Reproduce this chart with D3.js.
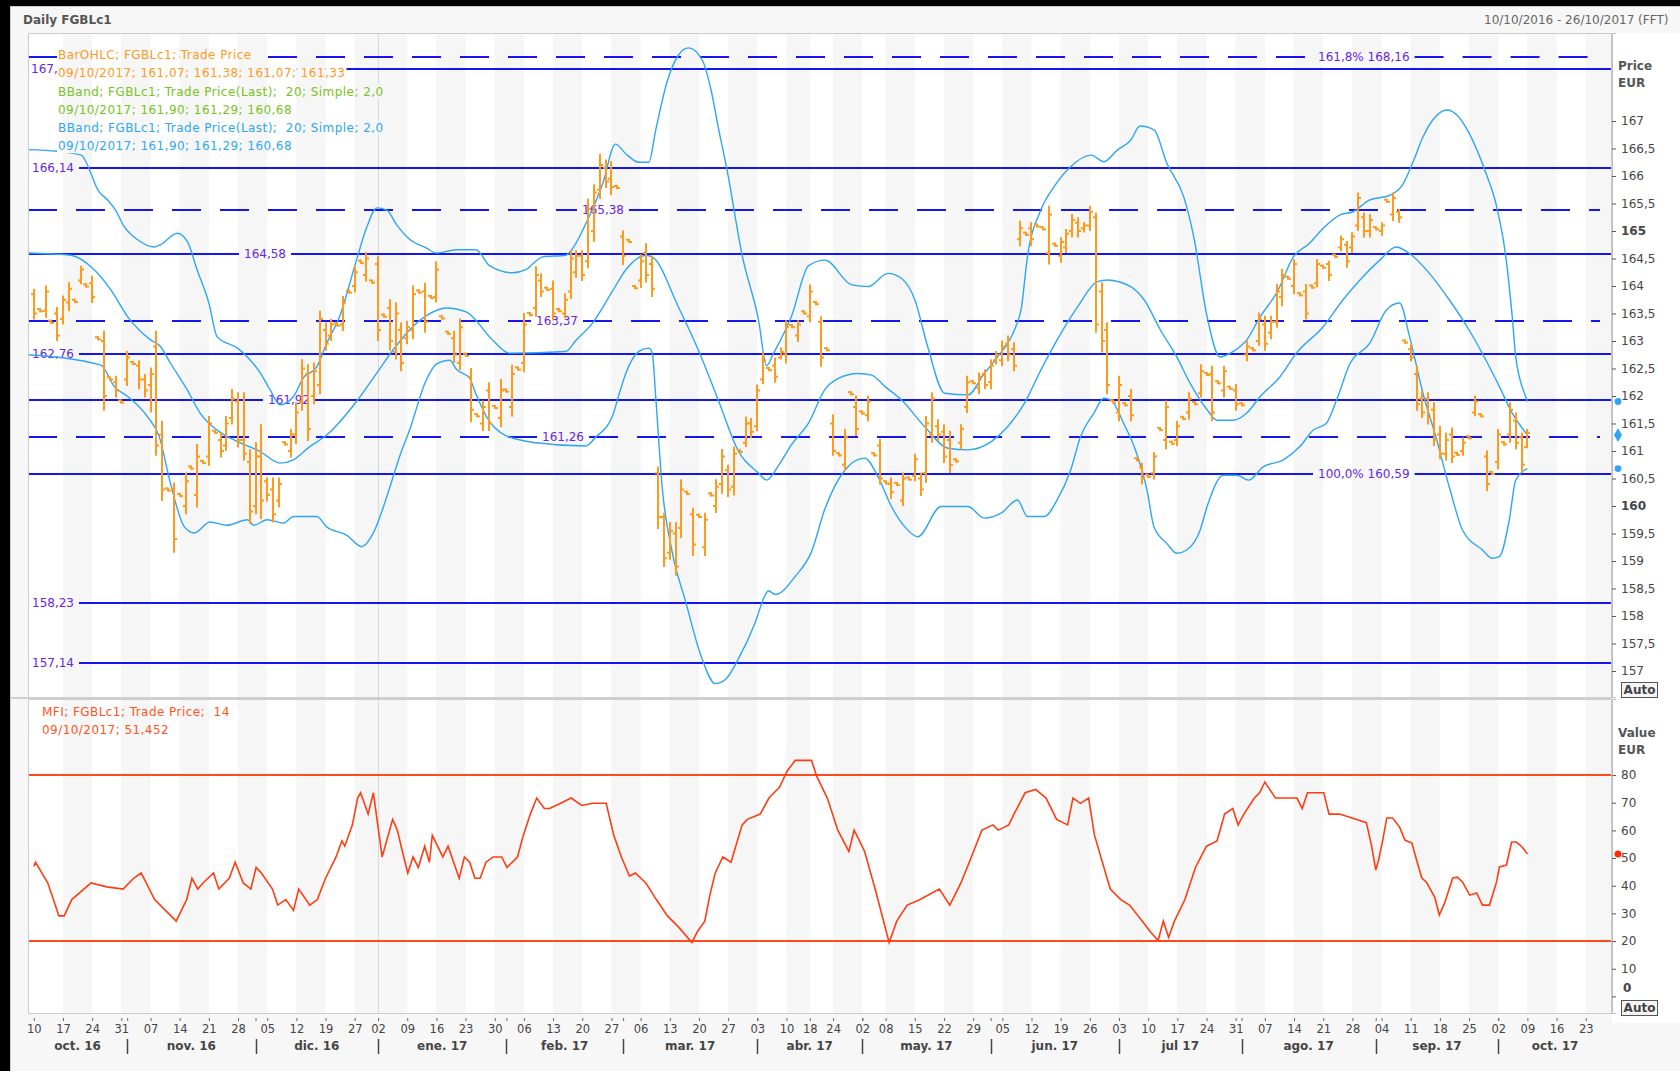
<!DOCTYPE html>
<html>
<head>
<meta charset="utf-8">
<title>Daily FGBLc1</title>
<script src="https://cdn.jsdelivr.net/npm/d3@7/dist/d3.min.js"></script>
<style>
  html, body { margin: 0; padding: 0; background: #000; }
  svg { display: block; font-family: "DejaVu Sans", Verdana, sans-serif; }
</style>
</head>
<body>
<svg id="chart" width="1680" height="1071"></svg>
<script>
// Trading calendar (exchange holidays are skipped on the x axis)
var firstDay = '2016-10-10', lastDay = '2017-10-27';
var holidays = ['2016-12-26', '2017-04-14', '2017-04-17', '2017-05-01'];

// Daily OHLC, one value per trading day from 10/10/2016 to 09/10/2017
var opens = [
  163.85, 163.58, 163.55, 163.37, 163.50, 163.40, 163.70, 163.75, 164.10, 164.03,
  164.05, 163.07, 163.00, 162.34, 162.25, 161.92, 162.30, 162.62, 162.55, 162.30,
  162.20, 162.90, 161.30, 160.32, 160.30, 160.22, 160.00, 160.72, 160.20, 160.82,
  160.90, 161.37, 161.20, 161.10, 161.60, 161.90, 161.20, 160.80, 160.00, 160.90,
  160.45, 160.30, 160.10, 161.16, 161.00, 161.30, 161.90, 162.40, 162.00, 162.20,
  163.20, 163.10, 163.32, 163.30, 163.92, 164.00, 164.46, 164.20, 164.10, 164.40,
  163.48, 163.60, 162.80, 163.20, 163.05, 163.20, 163.92, 163.90, 163.82, 163.80,
  163.45, 163.17, 163.05, 162.60, 162.77, 162.35, 161.67, 161.50, 162.10, 161.82,
  161.60, 162.12, 161.80, 162.52, 162.60, 163.51, 163.60, 164.10, 163.97, 163.95,
  163.58, 163.50, 163.90, 164.25, 164.55, 164.45, 165.00, 165.75, 166.15, 165.95,
  165.82, 164.90, 164.84, 164.00, 164.10, 164.60, 164.40, 160.60, 159.80, 159.15,
  159.50, 159.60, 160.26, 159.85, 159.84, 159.25, 160.23, 160.00, 160.40, 160.65,
  160.35, 161.02, 161.15, 161.50, 161.45, 162.30, 162.51, 162.55, 162.70, 162.75,
  163.29, 163.10, 163.54, 163.45, 163.71, 163.35, 162.87, 161.50, 160.96, 160.75,
  162.07, 161.80, 161.72, 161.65, 160.96, 161.10, 160.45, 160.40, 160.42, 160.10,
  160.52, 160.55, 160.50, 160.60, 161.30, 161.45, 161.35, 161.20, 160.85, 161.15,
  161.80, 162.27, 162.15, 162.40, 162.25, 162.65, 162.65, 162.95, 162.85, 164.85,
  164.97, 165.05, 165.12, 165.07, 164.60, 164.77, 164.55, 164.70, 165.00, 165.15,
  165.05, 165.10, 165.25, 163.90, 163.20, 161.92, 161.70, 161.87, 162.00, 160.87,
  160.70, 160.57, 160.60, 161.42, 161.20, 161.17, 161.20, 161.62, 161.70, 161.89,
  162.05, 162.42, 162.40, 162.27, 162.10, 162.17, 162.10, 161.87, 162.75, 162.87,
  163.00, 163.30, 163.15, 163.35, 163.80, 164.17, 164.00, 163.87, 163.90, 164.01,
  164.05, 164.37, 164.40, 164.57, 164.70, 164.75, 164.70, 165.10, 165.25, 165.00,
  165.07, 165.00, 165.57, 165.30, 165.35, 163.01, 162.85, 162.40, 161.95, 161.95,
  161.75, 161.30, 160.95, 161.30, 160.97, 161.00, 161.27, 161.70, 161.67, 160.90,
  160.62, 160.80, 161.16, 161.30, 161.55, 161.25, 161.07
];
var highs = [
  163.93, 163.58, 163.99, 163.37, 163.60, 163.81, 164.05, 163.75, 164.35, 164.03,
  164.17, 163.07, 163.17, 162.34, 162.35, 161.92, 162.80, 162.62, 162.63, 162.38,
  162.50, 163.17, 161.53, 160.32, 160.41, 160.22, 160.59, 160.72, 161.11, 160.82,
  161.62, 161.37, 161.32, 161.62, 162.11, 162.05, 162.05, 161.02, 161.14, 161.47,
  160.50, 160.50, 160.50, 161.16, 161.38, 161.87, 162.65, 162.56, 162.59, 163.53,
  163.32, 163.38, 163.32, 163.80, 163.92, 164.35, 164.46, 164.60, 164.10, 164.53,
  163.48, 163.74, 163.68, 163.32, 163.35, 163.99, 163.92, 164.04, 163.82, 164.43,
  163.45, 163.17, 163.17, 163.39, 162.77, 162.49, 161.67, 161.90, 162.23, 161.82,
  162.29, 162.12, 162.55, 162.52, 163.49, 163.51, 164.34, 164.21, 163.97, 164.08,
  163.58, 163.85, 164.63, 164.63, 164.63, 165.57, 165.83, 166.38, 166.28, 166.25,
  165.82, 164.99, 164.84, 164.00, 164.56, 164.76, 164.53, 160.70, 159.86, 159.69,
  159.69, 160.47, 160.26, 159.95, 159.84, 159.86, 160.23, 160.47, 161.02, 160.73,
  161.06, 161.02, 161.61, 161.58, 162.19, 162.78, 162.51, 162.68, 162.87, 163.36,
  163.29, 163.36, 163.54, 164.01, 163.71, 163.43, 162.87, 161.65, 160.96, 161.38,
  162.07, 161.99, 161.72, 161.99, 160.96, 161.20, 160.45, 160.50, 160.42, 160.59,
  160.52, 160.93, 160.59, 161.62, 162.05, 161.56, 161.47, 161.35, 160.85, 161.47,
  162.35, 162.27, 162.41, 162.47, 162.65, 162.80, 162.99, 163.08, 162.96, 165.17,
  164.97, 165.14, 165.12, 165.07, 165.44, 164.77, 164.87, 165.02, 165.29, 165.23,
  165.14, 165.44, 165.32, 164.05, 163.32, 161.92, 162.35, 161.87, 162.11, 160.87,
  160.77, 160.57, 160.96, 161.42, 161.90, 161.17, 161.53, 161.62, 162.05, 161.89,
  162.56, 162.42, 162.53, 162.27, 162.53, 162.17, 162.20, 161.87, 162.99, 162.87,
  163.50, 163.44, 163.44, 164.02, 164.29, 164.17, 164.47, 163.87, 164.02, 164.01,
  164.47, 164.37, 164.44, 164.57, 164.90, 164.80, 164.96, 165.68, 165.32, 165.29,
  165.07, 165.14, 165.57, 165.68, 165.38, 163.01, 162.93, 162.53, 162.08, 162.05,
  161.87, 161.44, 161.32, 161.41, 160.97, 161.23, 161.27, 161.99, 161.67, 160.99,
  160.62, 161.38, 161.16, 161.87, 161.68, 161.32, 161.38
];
var lows = [
  163.41, 163.54, 163.44, 163.33, 163.02, 163.32, 163.56, 163.71, 164.05, 163.99,
  163.71, 163.03, 161.75, 162.30, 161.99, 161.88, 162.20, 162.58, 162.14, 161.99,
  161.72, 160.93, 160.11, 160.28, 159.17, 160.18, 159.87, 160.68, 159.99, 160.78,
  160.75, 161.33, 160.90, 161.02, 161.50, 161.08, 160.84, 159.69, 159.87, 159.78,
  160.10, 159.72, 159.99, 161.12, 160.90, 161.14, 161.75, 161.20, 161.87, 162.05,
  162.84, 163.02, 163.28, 163.20, 163.88, 163.90, 164.42, 164.10, 164.06, 163.02,
  163.44, 162.84, 162.68, 162.47, 162.96, 163.05, 163.88, 163.17, 163.78, 163.72,
  163.41, 163.13, 162.62, 162.49, 162.73, 161.54, 161.63, 161.38, 161.38, 161.78,
  161.45, 162.08, 161.64, 162.48, 162.45, 163.47, 163.46, 163.82, 163.93, 163.39,
  163.54, 163.43, 163.78, 164.17, 164.11, 164.34, 164.82, 165.60, 165.80, 165.67,
  165.78, 164.40, 164.80, 163.96, 163.98, 164.08, 163.82, 159.60, 158.91, 159.04,
  158.75, 159.43, 160.22, 159.11, 159.80, 159.11, 160.19, 159.89, 160.24, 160.18,
  160.21, 160.98, 161.09, 161.25, 161.38, 162.23, 162.47, 162.26, 162.68, 162.61,
  163.25, 163.00, 163.50, 163.36, 163.67, 162.55, 162.83, 160.93, 160.92, 160.65,
  162.03, 161.29, 161.68, 161.56, 160.92, 160.41, 160.41, 160.14, 160.38, 160.02,
  160.48, 160.47, 160.20, 160.44, 161.17, 161.20, 160.80, 160.62, 160.81, 161.05,
  161.71, 162.23, 162.05, 162.14, 162.14, 162.59, 162.56, 162.65, 162.47, 164.74,
  164.93, 164.74, 165.08, 165.03, 164.41, 164.73, 164.44, 164.62, 164.90, 164.90,
  164.99, 165.02, 163.17, 162.81, 162.05, 161.88, 161.56, 161.83, 161.56, 160.83,
  160.41, 160.53, 160.50, 161.38, 161.05, 161.13, 161.11, 161.58, 161.59, 161.85,
  161.99, 162.38, 161.56, 162.23, 161.99, 162.13, 161.75, 161.83, 162.65, 162.83,
  162.93, 162.84, 163.05, 163.26, 163.65, 164.13, 163.87, 163.83, 163.41, 163.97,
  163.99, 164.33, 164.11, 164.53, 164.65, 164.35, 164.62, 165.02, 164.90, 164.90,
  165.03, 164.93, 165.53, 165.20, 165.17, 162.97, 162.65, 161.75, 161.62, 161.50,
  161.11, 160.87, 160.84, 160.80, 160.93, 160.93, 161.23, 161.65, 161.63, 160.29,
  160.58, 160.68, 161.12, 161.17, 161.05, 160.62, 161.07
];
var closes = [
  163.50, 163.54, 163.90, 163.33, 163.10, 163.75, 163.95, 163.71, 164.30, 163.99,
  163.80, 163.03, 162.00, 162.30, 162.10, 161.88, 162.70, 162.58, 162.30, 162.10,
  162.40, 161.10, 160.30, 160.28, 159.40, 160.18, 160.45, 160.68, 160.90, 160.78,
  161.50, 161.33, 161.00, 161.50, 161.95, 161.20, 160.95, 159.90, 160.90, 160.10,
  160.20, 159.85, 160.40, 161.12, 161.30, 161.70, 162.50, 161.40, 162.45, 163.40,
  162.95, 163.30, 163.28, 163.70, 163.88, 164.25, 164.42, 164.50, 164.06, 163.20,
  163.44, 163.00, 163.50, 162.60, 163.25, 163.85, 163.88, 163.35, 163.78, 164.30,
  163.41, 163.13, 162.75, 163.25, 162.73, 161.75, 161.63, 161.80, 161.50, 161.78,
  162.10, 162.08, 162.40, 162.48, 163.30, 163.47, 164.20, 163.90, 163.93, 163.50,
  163.54, 163.75, 164.50, 164.55, 164.20, 165.40, 165.70, 166.20, 165.90, 165.80,
  165.78, 164.55, 164.80, 163.96, 164.45, 164.20, 163.95, 159.80, 159.05, 159.55,
  158.90, 160.30, 160.22, 159.30, 159.80, 159.75, 160.19, 160.35, 160.90, 160.30,
  160.95, 160.98, 161.50, 161.35, 162.10, 162.65, 162.47, 162.35, 162.80, 163.25,
  163.25, 163.30, 163.50, 163.90, 163.67, 162.70, 162.83, 161.00, 160.92, 161.25,
  162.03, 161.40, 161.68, 161.90, 160.92, 160.50, 160.41, 160.25, 160.38, 160.50,
  160.48, 160.85, 160.30, 161.50, 161.95, 161.30, 160.90, 160.75, 160.81, 161.40,
  162.25, 162.23, 162.35, 162.20, 162.55, 162.75, 162.90, 162.75, 162.55, 165.05,
  164.93, 164.85, 165.08, 165.03, 165.30, 164.73, 164.80, 164.95, 165.20, 165.00,
  165.10, 165.35, 163.30, 163.00, 162.20, 161.88, 162.20, 161.83, 161.65, 160.83,
  160.50, 160.53, 160.90, 161.38, 161.80, 161.13, 161.45, 161.58, 161.95, 161.85,
  162.45, 162.38, 161.70, 162.23, 162.45, 162.13, 161.85, 161.83, 162.90, 162.83,
  163.40, 162.95, 163.35, 163.90, 164.20, 164.13, 164.40, 163.83, 163.50, 163.97,
  164.40, 164.33, 164.20, 164.53, 164.85, 164.45, 164.90, 165.60, 165.00, 165.20,
  165.03, 165.10, 165.53, 165.60, 165.25, 162.97, 162.70, 161.85, 161.70, 161.60,
  161.20, 160.95, 161.20, 160.90, 160.93, 161.15, 161.23, 161.90, 161.63, 160.40,
  160.58, 161.30, 161.12, 161.75, 161.15, 160.75, 161.33
];

// Bollinger band lines, read as [trading-day index, price]
var upperBand = [[-1,166.48],[4,166.45],[8.1,166.38],[11.2,165.71],[12.7,165.56],[14,165.38],[15.5,165.08],[17.8,164.84],[20.6,164.71],[21.7,164.75],[24.6,164.96],[26.3,164.81],[28,164.29],[30,163.69],[31.4,163.08],[34.9,162.87],[36.6,162.71],[38.8,162.42],[40.5,162.11],[42.2,161.84],[44.5,161.99],[46.2,162.33],[48.5,162.53],[50.2,162.96],[52.4,163.44],[55.3,164.47],[57.1,165.08],[58.8,165.42],[60.5,165.38],[62.2,165.11],[64.4,164.85],[67.3,164.69],[69,164.6],[72.4,164.66],[75.8,164.66],[78.1,164.37],[82.1,164.24],[84.4,164.3],[85.5,164.4],[87.2,164.53],[91.2,164.56],[92.4,164.69],[94.1,165.02],[95.8,165.41],[97.5,165.86],[99.7,166.58],[101.5,166.4],[103.7,166.25],[105.4,166.25],[106.6,166.84],[108.5,167.7],[110.5,168.2],[112.2,168.33],[114.6,168.1],[116,167.6],[117.4,166.84],[118.8,166.12],[121.4,164.56],[124.2,163.39],[125.6,162.55],[126.8,162.78],[129.9,163.46],[132.8,164.37],[135.6,164.47],[140.2,164.02],[143,163.99],[146.4,164.23],[148.7,164.14],[151,163.75],[153.2,162.9],[156.1,162.05],[160.1,162.02],[162.9,162.41],[165.2,162.71],[168.3,163.26],[169.2,163.56],[170.3,164.53],[172.6,165.38],[174.9,165.81],[177.7,166.17],[181.2,166.38],[183.4,166.26],[185.7,166.47],[188,166.65],[189.6,166.91],[192,166.84],[194.2,166.23],[197.1,165.62],[198.8,164.9],[201.1,163.44],[203.3,162.71],[205.6,162.81],[207.9,163.02],[210.2,163.44],[213,163.87],[215.9,164.53],[218.7,164.78],[221,165.05],[223.8,165.29],[226.1,165.35],[228.9,165.56],[232.4,165.65],[234.6,165.84],[236.3,166.23],[238.1,166.71],[240,167.05],[242.2,167.2],[244,167.1],[246,166.78],[248.9,166.05],[250.6,165.5],[252.3,164.53],[253.4,163.44],[254,162.71],[255.7,161.99],[256,161.9]];
var middleBand = [[-1,164.6],[6.3,164.56],[10.4,164.29],[13.2,163.93],[16.1,163.44],[20,163.02],[21.7,162.9],[23.4,162.6],[26.3,162.11],[28.5,161.69],[31.4,161.38],[34.3,161.2],[38.8,160.99],[42.2,160.78],[44.5,160.84],[47.3,161.08],[50.2,161.29],[55.3,161.9],[58.8,162.42],[61.6,162.84],[64.4,163.2],[67.3,163.46],[70.7,163.6],[74.1,163.53],[78.7,163.01],[81.5,162.78],[91.2,162.81],[92.9,163.01],[95.8,163.33],[99.2,163.91],[101.5,164.3],[104.9,164.56],[106,164.53],[110.6,163.59],[114,162.81],[117.4,161.9],[120.8,160.99],[124.2,160.6],[125.6,160.47],[127.6,160.73],[129.9,161.12],[132.8,161.51],[135.6,162.12],[137.9,162.32],[141.3,162.41],[143.6,162.38],[145.9,162.17],[148.7,161.93],[152.7,161.44],[156.7,161.05],[160.1,161.02],[164.1,161.17],[166.9,161.44],[169.8,161.87],[172.6,162.47],[175.4,163.02],[178.9,163.62],[182.3,164.08],[184,164.11],[188,163.99],[190.3,163.75],[193.1,163.2],[195.9,162.71],[198.2,162.23],[201.1,161.75],[202.8,161.56],[205.6,161.56],[207.9,161.69],[210.2,161.99],[213.6,162.35],[216.4,162.78],[221,163.26],[224.4,163.75],[227.3,164.11],[230.7,164.47],[233.5,164.71],[235.8,164.59],[239.2,164.23],[242.6,163.75],[246,163.2],[248.9,162.65],[251.2,162.17],[253.4,161.69],[256,161.29]];
var lowerBand = [[-1,162.75],[11.5,162.56],[13.8,162.17],[16.1,161.99],[19.5,161.62],[21.5,161.26],[23.4,160.42],[25.8,159.62],[27.5,159.51],[30.2,159.71],[33.1,159.65],[36.6,159.75],[37.7,159.65],[40,159.75],[42.8,159.69],[44.5,159.81],[48.5,159.81],[50.2,159.62],[53.6,159.47],[56.2,159.26],[58.2,159.51],[60.5,160.17],[62.7,160.9],[64.4,161.38],[67.3,162.3],[69,162.58],[71.3,162.65],[72.4,162.49],[74.7,162.32],[75.8,162.03],[77.5,161.64],[80.9,161.28],[86.1,161.15],[94.6,161.09],[96.3,161.25],[99.2,161.64],[100.3,162.03],[101.5,162.42],[103.7,162.81],[105.4,162.87],[106,162.78],[106.6,161.97],[107.7,160.34],[109.4,159.17],[111.7,158.27],[114.5,157.23],[116.8,156.77],[118.5,156.84],[120.8,157.23],[123.6,157.87],[125.4,158.39],[125.9,158.46],[127.1,158.39],[130.5,158.72],[133.3,159.17],[135.6,159.95],[136.7,160.23],[139,160.65],[142.4,160.87],[144.7,160.53],[147,159.99],[149.3,159.62],[151.5,159.44],[155.5,159.99],[160.1,159.99],[162.9,159.78],[165.8,159.87],[168.6,160.11],[170.3,159.81],[173.2,159.81],[175.4,160.11],[177.7,160.65],[179.4,161.26],[181.7,161.69],[183.4,161.96],[184.6,161.93],[186.8,161.5],[188.6,161.08],[190.8,160.29],[192,159.62],[194.2,159.32],[195.9,159.14],[197.6,159.2],[199.9,159.56],[201.1,159.99],[203.9,160.56],[206.2,160.56],[208.2,160.47],[210.7,160.71],[214.2,160.84],[217,161.08],[219.3,161.38],[221.5,161.5],[223.3,161.93],[225.6,162.59],[229,162.96],[231.8,163.56],[234.1,163.69],[235.8,163.08],[238.1,162.05],[240.3,161.26],[242.6,160.35],[244.9,159.56],[248.3,159.2],[250,159.05],[251.2,159.08],[252.9,159.75],[254,160.47],[256,160.68]];

// MFI(14), read as [trading-day index, value]
var mfiLine = [[0,47],[0.3,48.5],[2.4,41],[4.3,29.1],[5.2,29.1],[6.5,35],[9.8,41],[12.5,39.6],[15.3,38.8],[17.1,42.7],[18.4,44.6],[20.7,35],[23.5,29.1],[24.4,27.2],[26.2,35],[27.1,42.7],[28.1,38.8],[29,41],[30.8,44.6],[31.7,38.8],[33.5,42.7],[34.5,48.5],[35.9,41],[37.2,38.8],[38.1,46.6],[39,44.6],[40.9,38.8],[41.8,33],[43.2,35],[44.5,31.1],[45.4,38.8],[47.3,33],[48.6,35],[50,42.7],[51.8,50.4],[52.8,56.2],[53.3,54.3],[54.6,62],[55.5,71.7],[56,73.6],[57.3,65.9],[58.2,73.6],[59.7,50.4],[61.5,64],[62.3,60.1],[63.4,50.4],[64.1,44.6],[65,50.4],[65.9,46.6],[67,54.3],[67.8,48.5],[68.3,58.2],[69.2,54.3],[70.1,50.4],[71,54.3],[72.9,42.7],[73.8,50.4],[74.7,48.5],[75.6,42.7],[76.5,42.7],[77.5,48.5],[78.7,50.4],[80.2,50.4],[81.1,46.6],[82.9,50.4],[83.9,58.2],[85.1,65.9],[86.2,71.7],[87.5,67.9],[88.4,67.9],[90.3,69.8],[92.1,71.7],[93.9,69],[95.8,69.8],[98.1,69.8],[99.4,58.2],[100.7,50.4],[102.1,43.5],[103.1,44.6],[104.9,41],[106.7,35],[108.6,29.1],[110.4,25.3],[112.8,19.5],[113.7,23.3],[115,27.2],[115.9,36.9],[116.8,44.6],[118.1,50.4],[119.5,48.5],[121.4,62],[122.3,64],[124.5,65.9],[126,71.7],[127.8,75.6],[129.1,81.4],[130.5,85.3],[133.3,85.3],[134.2,79.5],[136,71.7],[137.8,60.1],[139.7,52.4],[140.6,60.1],[142.4,52.4],[144.2,38.8],[146.6,19.5],[147.9,27.2],[149.7,33],[151.9,35],[155.2,38.8],[157,33],[158.9,41],[160.7,50.4],[162.5,60.1],[164.4,62],[165.3,60.1],[167.1,62],[168,65.9],[169.9,73.6],[171.7,74.8],[173.5,71.7],[175.3,64],[177.2,62],[178.1,71.7],[179.4,69.8],[180.8,71.7],[181.8,58.2],[184.5,38.8],[186.3,35],[187.8,33],[190,27.2],[191.4,23.3],[192.7,20.2],[193.6,27.2],[194.5,21.4],[195.5,27.2],[197.3,35],[199.1,46.6],[201,54.3],[202.8,56.2],[204.1,65.9],[205.5,67.9],[206.4,62],[207.4,65.9],[209.2,71.7],[210.1,73.6],[211,77.5],[212.8,71.7],[216.5,71.7],[217.4,67.9],[218.3,73.6],[221.1,73.6],[222,65.9],[223.8,65.9],[226.6,64],[228.4,62.8],[229.3,54.3],[230,45.7],[230.5,49.3],[231.2,56.5],[231.9,64.5],[232.9,64.5],[234.1,61.2],[235,56.5],[236.2,55.4],[237,49.3],[237.9,42.8],[238.7,41.3],[240.1,35.9],[240.9,29.4],[241.8,33.7],[243.2,42.8],[244,43.1],[244.9,41.3],[246.1,36.6],[247.3,37.4],[248.3,33],[249.5,33],[250.7,41.3],[251.2,46.8],[252.4,47.5],[253.3,55.8],[254.1,55.8],[255.1,54],[256,51.452]];

// Fibonacci / level lines
var fibLevels = [168.16, 167.95, 166.14, 165.38, 164.58, 163.37, 162.76, 161.92, 161.26, 160.59, 158.23, 157.14];
var fibLabels = ['161,8% 168,16', '167,', '166,14', '165,38', '164,58', '163,37', '162,76', '161,92', '161,26', '100,0% 160,59', '158,23', '157,14'];
var fibDashed = [true, false, false, true, false, true, false, false, true, false, false, false];

var priceTicks = [157, 157.5, 158, 158.5, 159, 159.5, 160, 160.5, 161, 161.5, 162, 162.5, 163, 163.5, 164, 164.5, 165, 165.5, 166, 166.5, 167];
var mfiTicks = [10, 20, 30, 40, 50, 60, 70, 80];
var mfiBounds = [20, 80];
var monthLabels = ['oct. 16', 'nov. 16', 'dic. 16', 'ene. 17', 'feb. 17', 'mar. 17', 'abr. 17', 'may. 17', 'jun. 17', 'jul 17', 'ago. 17', 'sep. 17', 'oct. 17'];

var priceLegend = ['BarOHLC; FGBLc1; Trade Price', '09/10/2017; 161,07; 161,38; 161,07; 161,33',
  'BBand; FGBLc1; Trade Price(Last);  20; Simple; 2,0', '09/10/2017; 161,90; 161,29; 160,68',
  'BBand; FGBLc1; Trade Price(Last);  20; Simple; 2,0', '09/10/2017; 161,90; 161,29; 160,68'];
var mfiLegend = ['MFI; FGBLc1; Trade Price;  14', '09/10/2017; 51,452'];

// ---- layout ----
var plotL = 28, plotR = 1612, pTop = 33, pBot = 697, mTop = 699, mBot = 1013;
var barColor = '#ff9a1c', bandColor = '#2ea6f4', levelColor = '#1515ee', levelText = '#6526e8',
    mfiColor = '#ff3d12', greenText = '#76c41c', axisText = '#454545', stripeGrey = '#f6f6f6';

var svg = d3.select('#chart');
var defs = svg.append('defs');

var parse = d3.timeParse('%Y-%m-%d'), iso = d3.timeFormat('%Y-%m-%d');
var days = d3.timeDay.range(parse(firstDay), d3.timeDay.offset(parse(lastDay), 1))
  .filter(function (d) { var w = d.getDay(); return w > 0 && w < 6 && holidays.indexOf(iso(d)) < 0; });

var weekStarts = [], monthStarts = [], yearStart = null;
days.forEach(function (d, i) {
  if (i === 0 || +d3.timeMonday.floor(d) !== +d3.timeMonday.floor(days[i - 1])) weekStarts.push(i);
  if (i > 0 && d.getMonth() !== days[i - 1].getMonth()) monthStarts.push(i);
  if (i > 0 && d.getFullYear() !== days[i - 1].getFullYear()) yearStart = i;
});

var x = d3.scaleLinear().domain([-1, days.length - 0.5]).range([plotL, plotR]);
var yP = d3.scaleLinear().domain([156.527, 168.6]).range([pBot, pTop]);
var yM = d3.scaleLinear().domain([-6.0, 107.5]).range([mBot, mTop]);

// frame
svg.append('rect').attr('width', 1680).attr('height', 1071).attr('fill', '#000');
svg.append('rect').attr('x', 10.5).attr('y', 6.5).attr('width', 1680).attr('height', 1070)
  .attr('fill', '#f7f7f7').attr('stroke', '#cfcfcf');
svg.append('rect').attr('x', plotR).attr('y', 33).attr('width', 68).attr('height', 990).attr('fill', '#ffffff');

svg.append('text').attr('x', 23).attr('y', 24).attr('font-size', 12).attr('font-weight', 'bold')
  .attr('fill', '#555').text('Daily FGBLc1');
svg.append('text').attr('x', 1484).attr('y', 24).attr('font-size', 12).attr('fill', '#666')
  .text('10/10/2016 - 26/10/2017 (FFT)');

// week stripes
var stripeSpans = weekStarts.map(function (s, k) {
  var d = days[s];
  return {
    from: k === 0 ? -1 : s,
    to: k + 1 < weekStarts.length ? weekStarts[k + 1] : days.length - 0.5,
    grey: (+d3.timeFormat('%W')(d) + d.getFullYear()) % 2 === 0
  };
});
function drawStripes(g, top, bottom) {
  g.selectAll('rect.stripe').data(stripeSpans).join('rect').attr('class', 'stripe')
    .attr('x', function (d) { return x(d.from); })
    .attr('width', function (d) { return x(d.to) - x(d.from); })
    .attr('y', top).attr('height', bottom - top)
    .attr('fill', function (d) { return d.grey ? stripeGrey : '#ffffff'; });
}

defs.append('clipPath').attr('id', 'clipPrice').append('rect')
  .attr('x', plotL).attr('y', pTop).attr('width', plotR - plotL).attr('height', pBot - pTop);
defs.append('clipPath').attr('id', 'clipMfi').append('rect')
  .attr('x', plotL).attr('y', mTop).attr('width', plotR - plotL).attr('height', mBot - mTop);

// ================= price panel =================
var pricePanel = svg.append('g').attr('clip-path', 'url(#clipPrice)');
drawStripes(pricePanel.append('g'), pTop, pBot);
pricePanel.append('line').attr('x1', Math.round(x(yearStart)) + 0.5).attr('x2', Math.round(x(yearStart)) + 0.5)
  .attr('y1', pTop).attr('y2', pBot).attr('stroke', '#d9d9d9');

// level lines with labels cut into them
var labelAt = { 0: 1318, 1: 31, 2: 32, 3: 582, 4: 244, 5: 536, 6: 32, 7: 268, 8: 542, 9: 1318, 10: 32, 11: 32 };
var levelG = pricePanel.append('g');
fibLevels.forEach(function (lv, k) {
  var y = Math.round(yP(lv));
  var t = levelG.append('text').attr('x', labelAt[k]).attr('y', y).attr('dy', '0.35em')
    .attr('font-size', 12).attr('fill', levelText).style('white-space', 'pre').text(fibLabels[k]);
  var w = t.node().getComputedTextLength();
  var segs = [[plotL, labelAt[k] - 5], [labelAt[k] + w + 5, fibDashed[k] ? 1600 : plotR]];
  segs.forEach(function (s) {
    if (s[1] - s[0] < 4) return;
    levelG.insert('line', 'text').attr('x1', s[0]).attr('x2', s[1]).attr('y1', y).attr('y2', y)
      .attr('stroke', levelColor).attr('stroke-width', 2)
      .attr('stroke-dasharray', fibDashed[k] ? '29,19' : null);
  });
});

// bands
var bandLine = d3.line().x(function (d) { return x(d[0]); }).y(function (d) { return yP(d[1]); })
  .curve(d3.curveMonotoneX);
pricePanel.selectAll('path.band').data([upperBand, middleBand, lowerBand]).join('path')
  .attr('class', 'band').attr('d', bandLine).attr('fill', 'none')
  .attr('stroke', bandColor).attr('stroke-width', 1.4);

// OHLC bars
var barIdx = d3.range(highs.length);
var bars = pricePanel.append('g').attr('stroke', barColor).attr('stroke-width', 2);
function bx(i) { return Math.round(x(i)); }
bars.selectAll('line.hl').data(barIdx).join('line').attr('class', 'hl')
  .attr('x1', bx).attr('x2', bx)
  .attr('y1', function (i) { return yP(highs[i]) - 1; })
  .attr('y2', function (i) { return yP(lows[i]) + 1; });
bars.selectAll('line.op').data(barIdx).join('line').attr('class', 'op')
  .attr('x1', function (i) { return bx(i) - 3; }).attr('x2', function (i) { return bx(i); })
  .attr('y1', function (i) { return yP(opens[i]); }).attr('y2', function (i) { return yP(opens[i]); });
bars.selectAll('line.cl').data(barIdx).join('line').attr('class', 'cl')
  .attr('x1', function (i) { return bx(i); }).attr('x2', function (i) { return bx(i) + 3; })
  .attr('y1', function (i) { return yP(closes[i]); }).attr('y2', function (i) { return yP(closes[i]); });

// legend (covers the lines behind it)
var legendColors = [barColor, barColor, greenText, greenText, bandColor, bandColor];
var legendG = svg.append('g').attr('id', 'priceLegend');
var legendTexts = legendG.selectAll('text').data(priceLegend).join('text')
  .attr('x', 58).attr('y', function (d, k) { return 55 + k * 18.2; }).attr('dy', '0.35em')
  .attr('font-size', 12).attr('letter-spacing', 0.45).style('white-space', 'pre')
  .attr('fill', function (d, k) { return legendColors[k]; }).text(function (d) { return d; });
var boxes = [];
legendTexts.each(function () { boxes.push(this.getBBox()); });
defs.append('clipPath').attr('id', 'legendClip').selectAll('rect').data(boxes).join('rect')
  .attr('x', function (b) { return b.x - 1; }).attr('y', function (b) { return b.y; })
  .attr('width', function (b) { return b.width + 2; }).attr('height', function (b) { return b.height; });
var cover = svg.insert('g', '#priceLegend').attr('clip-path', 'url(#legendClip)');
drawStripes(cover, pTop, pBot);

svg.append('rect').attr('x', plotL + 0.5).attr('y', pTop + 0.5).attr('width', plotR - plotL - 1)
  .attr('height', pBot - pTop).attr('fill', 'none').attr('stroke', '#cccccc');

// price axis
var fmtComma = function (d) { return String(d).replace('.', ','); };
var pAxis = svg.append('g').attr('transform', 'translate(' + plotR + ',0)')
  .call(d3.axisRight(yP).tickValues(priceTicks).tickSize(4).tickPadding(5).tickFormat(fmtComma));
pAxis.select('.domain').attr('stroke', '#bdbdbd');
pAxis.selectAll('.tick line').attr('stroke', '#555');
pAxis.selectAll('.tick text').attr('font-size', 12).attr('fill', axisText)
  .attr('font-family', '"DejaVu Sans", Verdana, sans-serif')
  .attr('font-weight', function (d) { return d % 5 === 0 ? 'bold' : null; });
svg.append('text').attr('x', 1618).attr('y', 70).attr('font-size', 12).attr('font-weight', 'bold').attr('fill', '#555').text('Price');
svg.append('text').attr('x', 1618).attr('y', 87).attr('font-size', 12).attr('font-weight', 'bold').attr('fill', '#555').text('EUR');

// last value markers on the price axis
var sym = d3.symbol();
[[upperBand, d3.symbolCircle, 36], [middleBand, d3.symbolDiamond, 55], [lowerBand, d3.symbolCircle, 36]].forEach(function (m) {
  var v = m[0][m[0].length - 1][1];
  svg.append('path').attr('d', sym.type(m[1]).size(m[2])())
    .attr('transform', 'translate(1618,' + yP(v) + ')').attr('fill', bandColor);
});

function autoBox(y) {
  svg.append('rect').attr('x', 1621.5).attr('y', y + 0.5).attr('width', 36).attr('height', 15)
    .attr('fill', '#f4f4f4').attr('stroke', '#555');
  svg.append('text').attr('x', 1639.5).attr('y', y + 12).attr('text-anchor', 'middle')
    .attr('font-size', 12).attr('font-weight', 'bold').attr('fill', '#444').text('Auto');
}
autoBox(682);

// ================= MFI panel =================
svg.append('line').attr('x1', 10).attr('x2', plotR).attr('y1', 698).attr('y2', 698).attr('stroke', '#cfcfcf').attr('stroke-width', 2);
var mfiPanel = svg.append('g').attr('clip-path', 'url(#clipMfi)');
drawStripes(mfiPanel.append('g'), mTop, mBot);
mfiPanel.append('line').attr('x1', Math.round(x(yearStart)) + 0.5).attr('x2', Math.round(x(yearStart)) + 0.5)
  .attr('y1', mTop).attr('y2', mBot).attr('stroke', '#d9d9d9');
mfiPanel.selectAll('line.bound').data(mfiBounds).join('line').attr('class', 'bound')
  .attr('x1', plotL).attr('x2', plotR)
  .attr('y1', function (d) { return Math.round(yM(d)); }).attr('y2', function (d) { return Math.round(yM(d)); })
  .attr('stroke', '#ff4a1c').attr('stroke-width', 2);
mfiPanel.append('path').datum(mfiLine)
  .attr('d', d3.line().x(function (d) { return x(d[0]); }).y(function (d) { return yM(d[1]); }))
  .attr('fill', 'none').attr('stroke', mfiColor).attr('stroke-width', 1.6);
svg.append('g').selectAll('text').data(mfiLegend).join('text')
  .attr('x', 42).attr('y', function (d, k) { return 712 + k * 17.5; }).attr('dy', '0.35em')
  .attr('font-size', 12).attr('letter-spacing', 0.45).attr('fill', '#ff5522').style('white-space', 'pre')
  .text(function (d) { return d; });
svg.append('rect').attr('x', plotL + 0.5).attr('y', mTop + 0.5).attr('width', plotR - plotL - 1)
  .attr('height', mBot - mTop).attr('fill', 'none').attr('stroke', '#cccccc');

var mAxis = svg.append('g').attr('transform', 'translate(' + plotR + ',0)')
  .call(d3.axisRight(yM).tickValues([0].concat(mfiTicks)).tickSize(4).tickPadding(5)
    .tickFormat(function (d) { return d === 0 ? '' : d; }));
mAxis.select('.domain').attr('stroke', '#bdbdbd');
mAxis.selectAll('.tick line').attr('stroke', '#555');
mAxis.selectAll('.tick text').attr('font-size', 12).attr('fill', axisText)
  .attr('font-family', '"DejaVu Sans", Verdana, sans-serif');
svg.append('text').attr('x', 1623).attr('y', yM(0) - 9).attr('dy', '0.35em').attr('font-size', 12)
  .attr('font-weight', 'bold').attr('fill', axisText).text('0');
svg.append('text').attr('x', 1618).attr('y', 737).attr('font-size', 12).attr('font-weight', 'bold').attr('fill', '#555').text('Value');
svg.append('text').attr('x', 1618).attr('y', 754).attr('font-size', 12).attr('font-weight', 'bold').attr('fill', '#555').text('EUR');
svg.append('circle').attr('cx', 1618).attr('cy', yM(mfiLine[mfiLine.length - 1][1])).attr('r', 3.5).attr('fill', '#ff2a00');
autoBox(1000);

// ================= time axis =================
var dayAxis = svg.append('g').attr('transform', 'translate(0,' + (mBot + 5) + ')')
  .call(d3.axisBottom(x).tickValues(weekStarts).tickSize(3).tickPadding(4)
    .tickFormat(function (i) { return d3.timeFormat('%d')(days[i]); }));
dayAxis.select('.domain').remove();
dayAxis.selectAll('.tick line').attr('stroke', '#666');
dayAxis.selectAll('.tick text').attr('font-size', 11.5).attr('fill', axisText)
  .attr('font-family', '"DejaVu Sans", Verdana, sans-serif');
var monthDots = svg.append('g').attr('transform', 'translate(0,' + (mBot + 5) + ')')
  .call(d3.axisBottom(x).tickValues(monthStarts).tickSize(3).tickFormat(''));
monthDots.select('.domain').remove();
monthDots.selectAll('.tick line').attr('stroke', '#666');

var bounds = [-1].concat(monthStarts).concat([days.length - 0.5]);
svg.append('g').selectAll('line').data(monthStarts).join('line')
  .attr('x1', function (i) { return Math.round(x(i)) + 0.5; }).attr('x2', function (i) { return Math.round(x(i)) + 0.5; })
  .attr('y1', 1039).attr('y2', 1054).attr('stroke', '#444').attr('stroke-width', 1.5);
svg.append('g').selectAll('text').data(monthLabels).join('text')
  .attr('x', function (d, k) { return (x(bounds[k]) + x(bounds[k + 1])) / 2; })
  .attr('y', 1050).attr('text-anchor', 'middle').attr('font-size', 12).attr('font-weight', 'bold')
  .attr('fill', axisText).text(function (d) { return d; });
</script>
</body>
</html>
